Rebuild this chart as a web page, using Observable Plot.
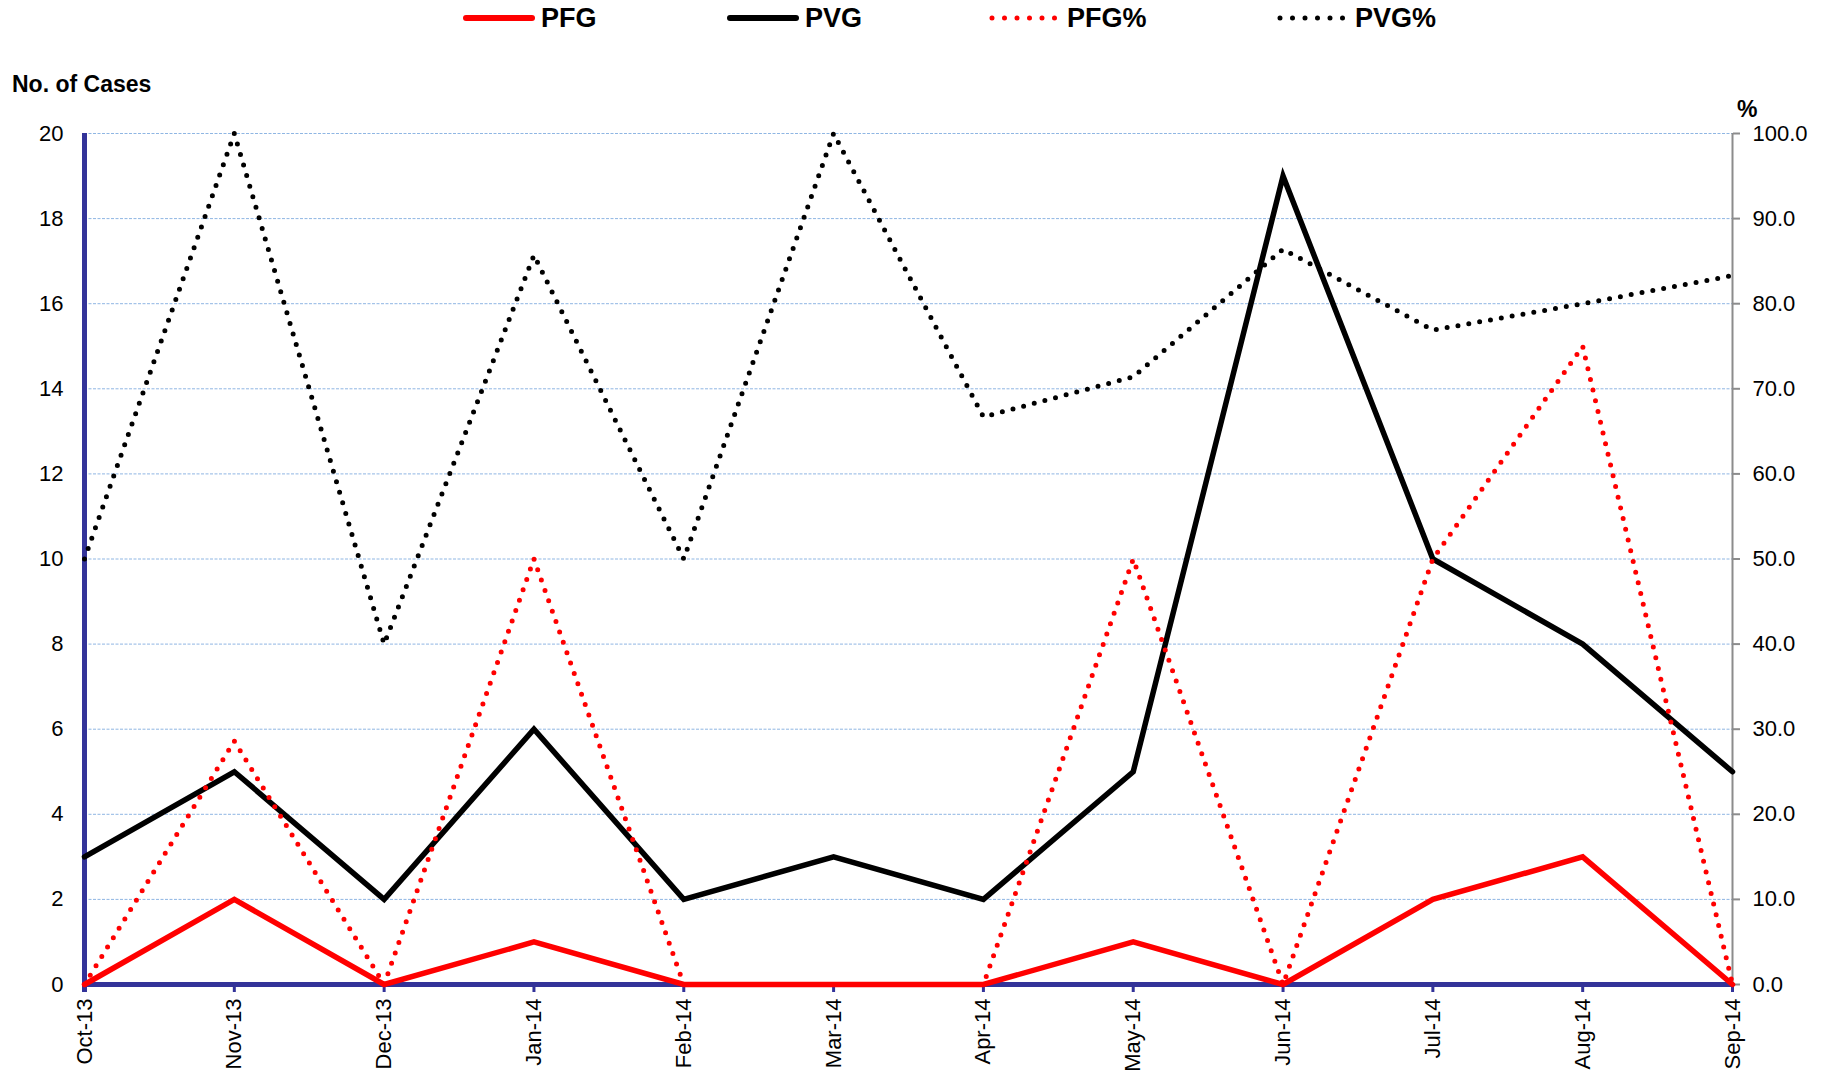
<!DOCTYPE html>
<html><head><meta charset="utf-8">
<script src="https://cdn.jsdelivr.net/npm/d3@7"></script>
<script src="https://cdn.jsdelivr.net/npm/@observablehq/plot@0.6"></script>
<style>
body{margin:0;background:#fff;font-family:"Liberation Sans",Arial,sans-serif;}
#wrap{position:relative;width:1831px;height:1074px;overflow:hidden;}
#wrap svg{position:absolute;left:0;top:0;}
</style></head><body><div id="wrap"></div>
<script>
const months = ["Oct-13","Nov-13","Dec-13","Jan-14","Feb-14","Mar-14","Apr-14","May-14","Jun-14","Jul-14","Aug-14","Sep-14"];
const pfg    = [0, 2, 0, 1, 0, 0, 0, 1, 0, 2, 3, 0];
const pvg    = [3, 5, 2, 6, 2, 3, 2, 5, 19, 10, 8, 5];
const pfgPct = [0, 28.6, 0, 50, 0, 0, 0, 50, 0, 50, 75, 0];
const pvgPct = [50, 100, 40, 85.7, 50, 100, 66.7, 71.4, 86.4, 76.9, 80, 83.3];
const caseTicks = [0, 2, 4, 6, 8, 10, 12, 14, 16, 18, 20];
const pctTicks = [0, 10, 20, 30, 40, 50, 60, 70, 80, 90, 100];
const legendItems = [
  {label: "PFG", color: "red", dotted: false, x: 463},
  {label: "PVG", color: "black", dotted: false, x: 727},
  {label: "PFG%", color: "red", dotted: true, x: 990},
  {label: "PVG%", color: "black", dotted: true, x: 1278}
];

const pctToCase = d3.scaleLinear([0, 100], [0, 20]);
const rows = months.map((m, i) => ({month: m, pfg: pfg[i], pvg: pvg[i], pfgP: pctToCase(pfgPct[i]), pvgP: pctToCase(pvgPct[i])}));

const navy = "#333399";
const chart = Plot.plot({
  width: 1831, height: 1074,
  marginTop: 133, marginBottom: 90, marginLeft: 84, marginRight: 99,
  style: {fontFamily: '"Liberation Sans", Arial, sans-serif', fontSize: "22px", background: "white", overflow: "visible"},
  x: {type: "point", domain: months, padding: 0, round: false},
  y: {domain: [0, 20]},
  marks: [
    Plot.ruleY(caseTicks.filter(d => d > 0), {stroke: "#8fb6e3", strokeWidth: 1, strokeDasharray: "3 1.5"}),
    Plot.ruleX([months[months.length - 1]], {stroke: "#8c8c8c", strokeWidth: 2}),
    Plot.axisY(caseTicks, {anchor: "left", tickSize: 0, tickPadding: 21, label: null, fill: "black"}),
    Plot.axisY(pctTicks.map(pctToCase), {anchor: "right", tickSize: 7, tickPadding: 13, stroke: "#8c8c8c", strokeWidth: 2, fill: "black", label: null, tickFormat: d => pctToCase.invert(d).toFixed(1)}),
    Plot.axisX({tickSize: 8, tickPadding: 6, tickRotate: -90, stroke: navy, strokeWidth: 3, fill: "black", label: null}),
    Plot.ruleX([months[0]], {stroke: navy, strokeWidth: 5, insetBottom: -8}),
    Plot.ruleY([0], {stroke: navy, strokeWidth: 5}),
    Plot.line(rows, {x: "month", y: "pfg", stroke: "red", strokeWidth: 5.5, strokeLinejoin: "miter", strokeMiterlimit: 10}),
    Plot.line(rows, {x: "month", y: "pvg", stroke: "black", strokeWidth: 5.5, strokeLinejoin: "miter", strokeMiterlimit: 10}),
    Plot.line(rows, {x: "month", y: "pfgP", stroke: "red", strokeWidth: 5, strokeDasharray: "0 11", strokeLinecap: "round"}),
    Plot.line(rows, {x: "month", y: "pvgP", stroke: "black", strokeWidth: 5, strokeDasharray: "0 11", strokeLinecap: "round"})
  ]
});
document.getElementById("wrap").appendChild(chart);

// overlay: legend and axis titles
const ov = d3.select("#wrap").append("svg").attr("width", 1831).attr("height", 140)
  .style("font-family", '"Liberation Sans", Arial, sans-serif');
legendItems.forEach(it => {
  const g = ov.append("g");
  if (it.dotted) {
    g.append("line").attr("x1", it.x + 2).attr("x2", it.x + 66).attr("y1", 18).attr("y2", 18)
      .attr("stroke", it.color).attr("stroke-width", 5).attr("stroke-linecap", "round").attr("stroke-dasharray", "0 12.5");
  } else {
    g.append("line").attr("x1", it.x + 3).attr("x2", it.x + 69).attr("y1", 18).attr("y2", 18)
      .attr("stroke", it.color).attr("stroke-width", 6).attr("stroke-linecap", "round");
  }
  g.append("text").attr("x", it.dotted ? it.x + 77 : it.x + 78).attr("y", 27).attr("font-size", 27).attr("font-weight", "bold").text(it.label);
});
ov.append("text").attr("x", 12).attr("y", 92).attr("font-size", 23).attr("font-weight", "bold").text("No. of Cases");
ov.append("text").attr("x", 1737).attr("y", 117).attr("font-size", 23).attr("font-weight", "bold").text("%");
</script>
</body></html>
